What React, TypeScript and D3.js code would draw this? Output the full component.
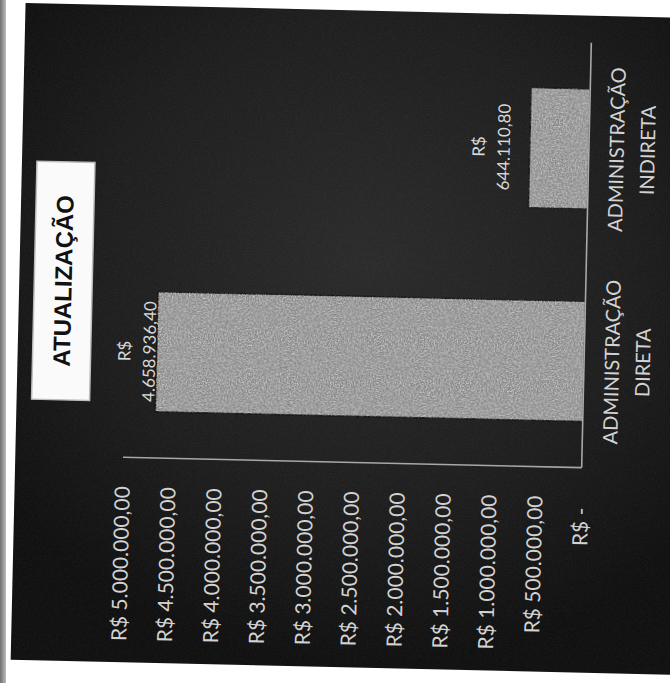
import React from "react";
import * as d3 from "d3";

const categories = ["ADMINISTRAÇÃO DIRETA", "ADMINISTRAÇÃO INDIRETA"];
const values = [4658936.4, 644110.8];
const tickValues = [0, 500000, 1000000, 1500000, 2000000, 2500000, 3000000, 3500000, 4000000, 4500000, 5000000];
const title = "ATUALIZAÇÃO";

const W = 670;
const H = 683;

const locale = d3.formatLocale({ decimal: ",", thousands: ".", grouping: [3], currency: ["R$", ""] });
const fmt = locale.format(",.2f");
const tickLabel = (v: number) => (v === 0 ? "R$ -" : "R$ " + fmt(v));

export default function App() {
  const x = d3.scaleLinear().domain([0, 5000000]).range([584.5, 125.7]);
  const y = d3
    .scaleBand<string>()
    .domain(categories)
    .range([462, 37])
    .paddingInner(0.435)
    .paddingOuter(0.2175);

  const bw = y.bandwidth();
  const labelFont = "Lato, 'Open Sans', sans-serif";

  return (
    <svg
      width={W}
      height={H}
      viewBox={`0 0 ${W} ${H}`}
      style={{ position: "absolute", left: 0, top: 0, background: "#ffffff" }}
    >
      <defs>
        <radialGradient id="bg" cx="0.48" cy="0.38" r="0.62">
          <stop offset="0" stopColor="#2b2b2b" />
          <stop offset="0.6" stopColor="#1e1e1e" />
          <stop offset="1" stopColor="#101010" />
        </radialGradient>
        <linearGradient id="edge" x1="0" x2="1" y1="0" y2="0">
          <stop offset="0" stopColor="#6f6f6f" />
          <stop offset="1" stopColor="#bdbdbd" />
        </linearGradient>
        <filter id="speckle" x="0" y="0" width="100%" height="100%">
          <feTurbulence type="fractalNoise" baseFrequency="0.7" numOctaves="2" seed="5" result="t" />
          <feColorMatrix
            in="t"
            type="matrix"
            values="0 0 0 0 1  0 0 0 0 1  0 0 0 0 1  2.2 0 0 0 -0.75"
            result="w"
          />
          <feComposite in="w" in2="SourceGraphic" operator="in" />
        </filter>
        <filter id="grain" x="0" y="0" width="100%" height="100%">
          <feTurbulence type="fractalNoise" baseFrequency="0.9" numOctaves="2" seed="2" result="t" />
          <feColorMatrix
            in="t"
            type="matrix"
            values="0 0 0 0 1  0 0 0 0 1  0 0 0 0 1  1.4 0 0 0 -0.55"
            result="w"
          />
          <feComposite in="w" in2="SourceGraphic" operator="in" />
        </filter>
      </defs>

      <rect x={0} y={0} width={6} height={H} fill="url(#edge)" />

      <g transform="rotate(1.3 335 340)">
        <rect x={18} y={10} width={720} height={657} fill="url(#bg)" />
        <rect x={18} y={10} width={720} height={657} fill="#000" opacity={0.08} filter="url(#grain)" />

        {/* title box */}
        <rect x={33} y={168} width={58} height={238} fill="#fafafa" stroke="#bdbdbd" strokeWidth={1.5} />
        <text
          transform={`translate(62,287) rotate(-90)`}
          textAnchor="middle"
          dy="0.35em"
          fontFamily="'Liberation Sans', Arial, sans-serif"
          fontWeight="bold"
          fontSize={24}
          fill="#111"
        >
          {title}
        </text>

        {/* bars */}
        {categories.map((c, i) => (
          <g key={c}>
            <rect
              x={x(values[i])}
              y={y(c)!}
              width={x(0) - x(values[i])}
              height={bw}
              fill="#878787"
              stroke="#141414"
              strokeWidth={1.5}
            />
            <rect
              x={x(values[i])}
              y={y(c)!}
              width={x(0) - x(values[i])}
              height={bw}
              fill="#000"
              opacity={0.55}
              filter="url(#speckle)"
            />
          </g>
        ))}

        {/* axes lines */}
        <line x1={x(5000000)} x2={x(0)} y1={462} y2={462} stroke="#a8a8a8" strokeWidth={1.6} />
        <line x1={x(0)} x2={x(0)} y1={37} y2={462} stroke="#a8a8a8" strokeWidth={1.6} />

        {/* tick labels */}
        {tickValues.map((v) => (
          <text
            key={v}
            transform={`translate(${x(v)},${v === 0 ? 502 : 491}) rotate(-90)`}
            textAnchor="end"
            dy="0.35em"
            fontFamily={labelFont}
            fontSize={21}
            fill="#d2d2d2"
          >
            {tickLabel(v)}
          </text>
        ))}

        {/* category labels */}
        {categories.map((c) => {
          const cy = y(c)! + bw / 2;
          const parts = c.split(" ");
          return parts.map((p, j) => (
            <text
              key={c + j}
              transform={`translate(${619.5 + j * 31},${cy}) rotate(-90)`}
              textAnchor="middle"
              fontFamily={labelFont}
              fontSize={20}
              fill="#d2d2d2"
            >
              {p}
            </text>
          ));
        })}

        {/* value labels */}
        {categories.map((c, i) => {
          const cy = y(c)! + bw / 2;
          const b2 = Math.max(x(values[i]) - 20, x(5000000) + 30);
          return (
            <g key={"v" + c}>
              <text
                transform={`translate(${b2 - 25},${cy}) rotate(-90)`}
                textAnchor="middle"
                fontFamily={labelFont}
                fontSize={17}
                fill="#d8d8d8"
              >
                R$
              </text>
              <text
                transform={`translate(${b2},${cy}) rotate(-90)`}
                textAnchor="middle"
                fontFamily={labelFont}
                fontSize={17}
                fill="#d8d8d8"
              >
                {fmt(values[i])}
              </text>
            </g>
          );
        })}
      </g>
    </svg>
  );
}
